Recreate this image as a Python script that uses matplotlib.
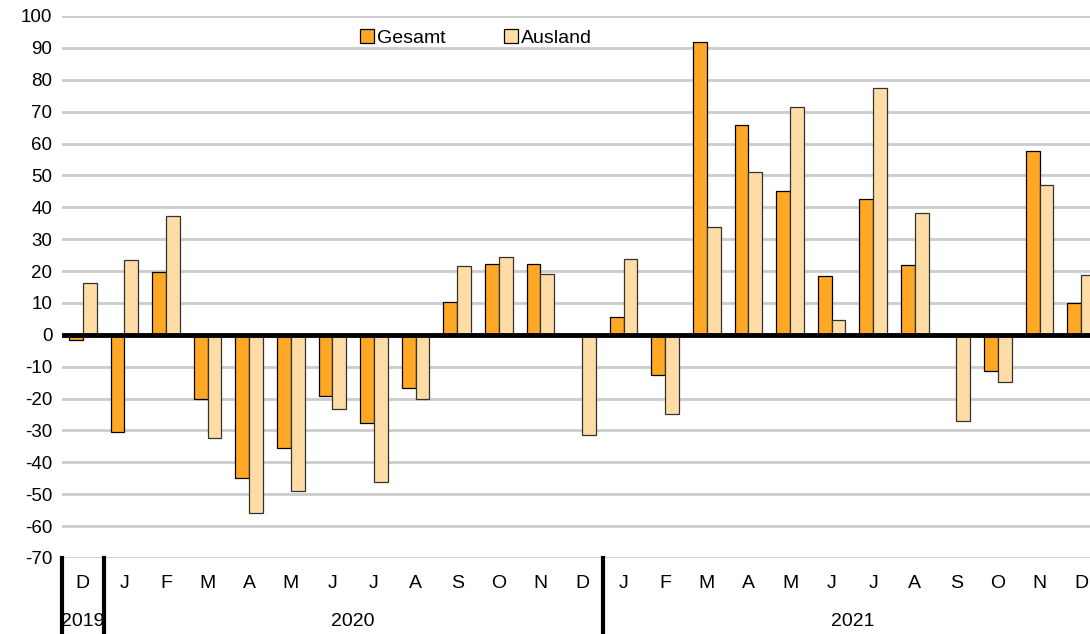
import matplotlib.pyplot as plt
import matplotlib.transforms as mtransforms
from matplotlib.patches import Patch
import numpy as np

plt.rcParams['font.family'] = ['Liberation Sans', 'DejaVu Sans']
plt.rcParams['axes.unicode_minus'] = False

# data
months = ['D', 'J', 'F', 'M', 'A', 'M', 'J', 'J', 'A', 'S', 'O', 'N', 'D',
          'J', 'F', 'M', 'A', 'M', 'J', 'J', 'A', 'S', 'O', 'N', 'D']
years = ['2019', '2020', '2021']
year_first_idx = [0, 1, 13]
year_last_idx = [0, 12, 24]
gesamt = [-1.5, -30.5, 19.8, -20.2, -44.8, -35.5, -19.1, -27.7, -16.7, 10.4, 22.2, 22.2, 0,
          5.5, -12.5, 91.8, 65.7, 45.1, 18.4, 42.7, 21.8, 0, -11.5, 57.7, 10.1]
ausland = [16.2, 23.5, 37.4, -32.5, -55.9, -48.9, -23.2, -46.2, -20.1, 21.6, 24.4, 19.2, -31.3,
           23.7, -24.7, 33.9, 51.2, 71.6, 4.5, 77.3, 38.1, -27.0, -14.8, 47.0, 18.9]

c_ges = '#FFA826'
c_aus = '#FFDCA6'

W, H = 1090, 634
fig = plt.figure(figsize=(W / 100, H / 100), dpi=100)
# plot area runs slightly past the right edge, like the reference crop
left, right, top, bottom = 62, 1102, 16, 558
ax = fig.add_axes([left / W, (H - bottom) / H, (right - left) / W, (bottom - top) / H])

x = np.arange(len(months))
bw = 0.33
ax.bar(x - bw / 2, gesamt, bw, color=c_ges, edgecolor='black', linewidth=0.9, zorder=3)
ax.bar(x + bw / 2, ausland, bw, color=c_aus, edgecolor='#333333', linewidth=0.9, zorder=3)

ax.set_xlim(-0.5, len(months) - 0.5)
ax.set_ylim(-70, 100)
ax.set_yticks(range(-70, 101, 10))
ax.yaxis.grid(True, color='#cccccc', linewidth=2, zorder=0)
ax.axhline(0, color='black', linewidth=3.5, zorder=4)
for s in ax.spines.values():
    s.set_visible(False)
ax.tick_params(axis='y', length=0, pad=7, labelsize=13.5)
ax.set_xticks([])

trans = mtransforms.blended_transform_factory(ax.transData, ax.transAxes)
h_ax = bottom - top
for i, m in enumerate(months):
    ax.text(i, -25 / h_ax, m, transform=trans, ha='center', va='center', fontsize=14)
for yr, a, b in zip(years, year_first_idx, year_last_idx):
    ax.text((a + b) / 2, -63 / h_ax, yr, transform=trans, ha='center', va='center', fontsize=14)
for xs in [-0.5, 0.5, 12.5]:
    ax.plot([xs, xs], [0, -(H - bottom) / h_ax], transform=trans, color='black',
            linewidth=3, clip_on=False, zorder=5)

handles = [Patch(facecolor=c_ges, edgecolor='black', linewidth=0.9, label='Gesamt'),
           Patch(facecolor=c_aus, edgecolor='black', linewidth=0.9, label='Ausland')]
fig.legend(handles=handles, loc='center', bbox_to_anchor=(476 / W, 1 - 38 / H), ncol=2,
           frameon=False, fontsize=14, handlelength=0.7, handleheight=0.7,
           handletextpad=0.15, columnspacing=3.0)

fig.savefig('out.png', dpi=100)
